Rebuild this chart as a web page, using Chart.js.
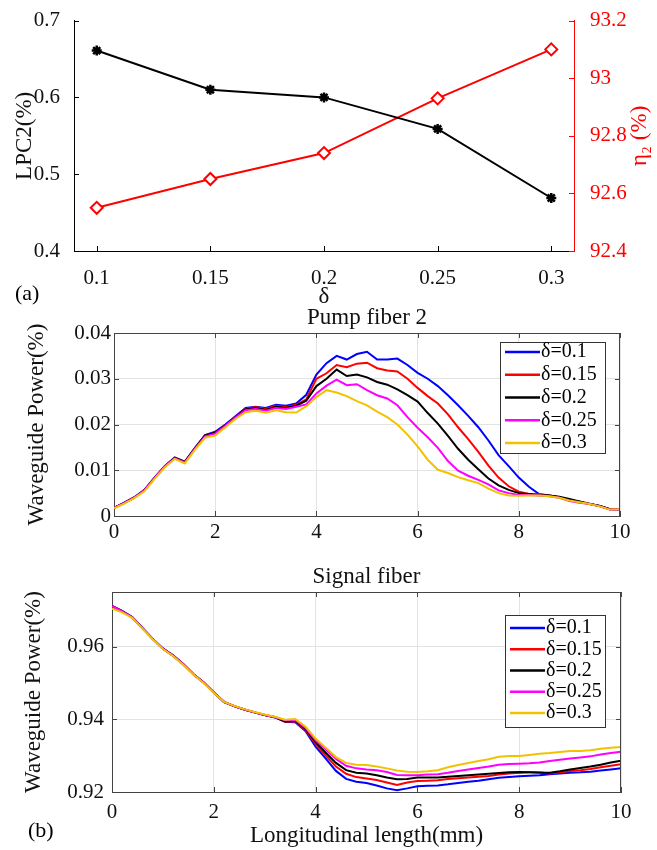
<!DOCTYPE html>
<html>
<head>
<meta charset="utf-8">
<script src="https://cdn.jsdelivr.net/npm/chart.js@4.4.0/dist/chart.umd.min.js"></script>
<style>
  body { margin: 0; background: #fff; }
  #wrap { position: relative; width: 657px; height: 850px; background: #fff; overflow: hidden; }
  canvas { position: absolute; left: 0; }
  .tag { position: absolute; font: 22px "Liberation Serif", serif; color: #000; line-height: 24px; }
</style>
</head>
<body>
<div id="wrap">
  <canvas id="c1" width="657" height="312" style="top:0px"></canvas>
  <canvas id="c2" width="657" height="240" style="top:300px"></canvas>
  <canvas id="c3" width="657" height="290" style="top:560px"></canvas>
  <div class="tag" style="left:15px; top:281px">(a)</div>
  <div class="tag" style="left:28px; top:818px">(b)</div>
</div>
<script>
// (a) 上图: δ 对 LPC2 和 η2
var deltaVals = [0.1, 0.15, 0.2, 0.25, 0.3];
var lpc2 = [0.661, 0.610, 0.600, 0.559, 0.469];
var eta2 = [92.55, 92.65, 92.74, 92.93, 93.10];
var deltaTicks = [0.1, 0.15, 0.2, 0.25, 0.3];
var lpcTicks = [0.4, 0.5, 0.6, 0.7];
var etaTicks = [92.4, 92.6, 92.8, 93, 93.2];

// (b) 纵向位置 (mm)
var xs = [0, 0.2, 0.4, 0.6, 0.8, 1, 1.2, 1.4, 1.6, 1.8, 2, 2.2, 2.4, 2.6, 2.8, 3, 3.2, 3.4, 3.6, 3.8,
  4, 4.2, 4.4, 4.6, 4.8, 5, 5.2, 5.4, 5.6, 5.8, 6, 6.2, 6.4, 6.6, 6.8, 7, 7.2, 7.4, 7.6, 7.8,
  8, 8.2, 8.4, 8.6, 8.8, 9, 9.2, 9.4, 9.6, 9.8, 10];
var posTicks = [0, 2, 4, 6, 8, 10];
var legendLabels = ['δ=0.1', 'δ=0.15', 'δ=0.2', 'δ=0.25', 'δ=0.3'];
var lineColors = ['#0000ff', '#ff0000', '#000000', '#ff00ff', '#f2c200'];

// Pump fiber 2
var pumpTicks = [0, 0.01, 0.02, 0.03, 0.04];
var pumpD01 = [0.0018, 0.0029, 0.0041, 0.0057, 0.0084, 0.0109, 0.0128, 0.0119, 0.0149, 0.0177, 0.0184, 0.0200, 0.0218, 0.0236, 0.0239, 0.0236, 0.0243, 0.0241, 0.0246,
  0.0265, 0.0309, 0.0334, 0.0350, 0.0342, 0.0354, 0.0359, 0.0342, 0.0342, 0.0344, 0.0330, 0.0313, 0.0300, 0.0284, 0.0264, 0.0242, 0.0219, 0.0194, 0.0165, 0.0133, 0.0109,
  0.0084, 0.0064, 0.0048, 0.0045, 0.0041, 0.0035, 0.0031, 0.0026, 0.0022, 0.0015, 0.0015];
var pumpD015 = [0.0018, 0.0028, 0.0040, 0.0056, 0.0083, 0.0108, 0.0127, 0.0118, 0.0148, 0.0176, 0.0182, 0.0198, 0.0216, 0.0234, 0.0238, 0.0234, 0.0241, 0.0238, 0.0243,
  0.0255, 0.0300, 0.0312, 0.0330, 0.0325, 0.0333, 0.0335, 0.0323, 0.0318, 0.0316, 0.0300, 0.0280, 0.0262, 0.0246, 0.0222, 0.0194, 0.0168, 0.0140, 0.0110, 0.0084, 0.0065,
  0.0053, 0.0048, 0.0047, 0.0045, 0.0041, 0.0035, 0.0031, 0.0026, 0.0022, 0.0015, 0.0015];
var pumpD02 = [0.0018, 0.0028, 0.0040, 0.0056, 0.0083, 0.0108, 0.0127, 0.0118, 0.0148, 0.0176, 0.0182, 0.0198, 0.0216, 0.0233, 0.0236, 0.0232, 0.0239, 0.0236, 0.0241,
  0.0252, 0.0284, 0.0300, 0.0320, 0.0306, 0.0309, 0.0303, 0.0293, 0.0287, 0.0277, 0.0264, 0.0250, 0.0225, 0.0202, 0.0175, 0.0147, 0.0123, 0.0102, 0.0082, 0.0067, 0.0057,
  0.0050, 0.0048, 0.0046, 0.0045, 0.0042, 0.0037, 0.0032, 0.0027, 0.0022, 0.0015, 0.0015];
var pumpD025 = [0.0018, 0.0028, 0.0040, 0.0056, 0.0083, 0.0108, 0.0126, 0.0117, 0.0147, 0.0174, 0.0180, 0.0197, 0.0215, 0.0231, 0.0234, 0.0230, 0.0236, 0.0234, 0.0239,
  0.0244, 0.0268, 0.0285, 0.0298, 0.0286, 0.0288, 0.0275, 0.0264, 0.0257, 0.0242, 0.0216, 0.0193, 0.0172, 0.0149, 0.0120, 0.0099, 0.0088, 0.0079, 0.0069, 0.0056, 0.0050,
  0.0046, 0.0046, 0.0045, 0.0043, 0.0040, 0.0033, 0.0029, 0.0026, 0.0021, 0.0014, 0.0015];
var pumpD03 = [0.0017, 0.0027, 0.0039, 0.0054, 0.0081, 0.0106, 0.0125, 0.0115, 0.0145, 0.0171, 0.0176, 0.0194, 0.0212, 0.0227, 0.0230, 0.0226, 0.0231, 0.0227, 0.0226,
  0.0240, 0.0260, 0.0275, 0.0270, 0.0262, 0.0251, 0.0242, 0.0228, 0.0216, 0.0200, 0.0178, 0.0152, 0.0123, 0.0101, 0.0094, 0.0085, 0.0078, 0.0072, 0.0060, 0.0050, 0.0045,
  0.0044, 0.0045, 0.0045, 0.0043, 0.0040, 0.0034, 0.0030, 0.0026, 0.0021, 0.0014, 0.0015];

// Signal fiber
var sigTicks = [0.92, 0.94, 0.96];
var sigD01 = [0.9712, 0.9698, 0.9681, 0.9651, 0.9621, 0.9595, 0.9576, 0.9552, 0.9524, 0.9501, 0.9474, 0.9447, 0.9436, 0.9427, 0.9419, 0.9412, 0.9405, 0.9393, 0.9392,
  0.9368, 0.9325, 0.9292, 0.9258, 0.9236, 0.9228, 0.9225, 0.9218, 0.9210, 0.9205, 0.9210, 0.9216, 0.9217, 0.9218, 0.9221, 0.9225, 0.9228, 0.9231, 0.9235, 0.9239, 0.9241,
  0.9243, 0.9245, 0.9246, 0.9249, 0.9251, 0.9253, 0.9254, 0.9256, 0.9259, 0.9262, 0.9265];
var sigD015 = [0.9711, 0.9697, 0.9680, 0.9650, 0.9621, 0.9594, 0.9575, 0.9551, 0.9524, 0.9501, 0.9474, 0.9448, 0.9436, 0.9427, 0.9419, 0.9412, 0.9406, 0.9394, 0.9394,
  0.9371, 0.9332, 0.9300, 0.9270, 0.9250, 0.9241, 0.9237, 0.9233, 0.9226, 0.9219, 0.9226, 0.9230, 0.9231, 0.9232, 0.9236, 0.9238, 0.9240, 0.9242, 0.9244, 0.9248, 0.9251,
  0.9253, 0.9254, 0.9254, 0.9251, 0.9254, 0.9258, 0.9260, 0.9263, 0.9268, 0.9272, 0.9276];
var sigD02 = [0.9711, 0.9697, 0.9680, 0.9650, 0.9621, 0.9594, 0.9575, 0.9551, 0.9524, 0.9501, 0.9474, 0.9448, 0.9436, 0.9427, 0.9419, 0.9412, 0.9406, 0.9394, 0.9396,
  0.9374, 0.9337, 0.9308, 0.9280, 0.9260, 0.9253, 0.9251, 0.9246, 0.9240, 0.9235, 0.9236, 0.9240, 0.9240, 0.9240, 0.9242, 0.9244, 0.9246, 0.9248, 0.9250, 0.9252, 0.9254,
  0.9255, 0.9254, 0.9253, 0.9253, 0.9257, 0.9262, 0.9266, 0.9270, 0.9275, 0.9281, 0.9286];
var sigD025 = [0.9711, 0.9697, 0.9680, 0.9650, 0.9621, 0.9594, 0.9575, 0.9551, 0.9524, 0.9501, 0.9474, 0.9448, 0.9436, 0.9427, 0.9419, 0.9412, 0.9406, 0.9397, 0.9398,
  0.9377, 0.9342, 0.9317, 0.9291, 0.9272, 0.9265, 0.9262, 0.9260, 0.9255, 0.9247, 0.9246, 0.9246, 0.9248, 0.9249, 0.9253, 0.9258, 0.9262, 0.9266, 0.9270, 0.9275, 0.9277,
  0.9278, 0.9279, 0.9281, 0.9285, 0.9289, 0.9292, 0.9295, 0.9298, 0.9303, 0.9307, 0.9311];
var sigD03 = [0.9704, 0.9694, 0.9679, 0.9649, 0.9620, 0.9593, 0.9574, 0.9550, 0.9523, 0.9500, 0.9473, 0.9448, 0.9437, 0.9428, 0.9420, 0.9413, 0.9407, 0.9399, 0.9401,
  0.9380, 0.9347, 0.9322, 0.9296, 0.9280, 0.9275, 0.9274, 0.9270, 0.9265, 0.9259, 0.9256, 0.9255, 0.9257, 0.9260, 0.9268, 0.9274, 0.9280, 0.9285, 0.9290, 0.9297, 0.9299,
  0.9299, 0.9302, 0.9305, 0.9307, 0.9310, 0.9313, 0.9313, 0.9315, 0.9319, 0.9322, 0.9324];

Chart.defaults.font.family = '"Liberation Serif", "Times New Roman", serif';
Chart.defaults.color = '#111';

function fmt(v) { return String(+(+v).toFixed(4)); }
function setTicks(arr) { return function (s) { s.ticks = arr.map(function (v) { return { value: v }; }); }; }

// matlab 처럼 안쪽으로 향하는 눈금 + 박스
var innerTicks = {
  id: 'innerTicks',
  afterDraw: function (chart, args, opts) {
    var ctx = chart.ctx, a = chart.chartArea, len = 5;
    ctx.save();
    ctx.lineWidth = 1;
    Object.keys(chart.scales).forEach(function (id) {
      var s = chart.scales[id];
      ctx.strokeStyle = s.options.border.color;
      s.ticks.forEach(function (t) {
        var p = Math.round(s.getPixelForValue(t.value)) + 0.5;
        ctx.beginPath();
        if (s.isHorizontal()) {
          ctx.moveTo(p, a.bottom); ctx.lineTo(p, a.bottom - len);
          if (opts.box) { ctx.moveTo(p, a.top); ctx.lineTo(p, a.top + len); }
        } else if (s.position === 'left') {
          ctx.moveTo(a.left, p); ctx.lineTo(a.left + len, p);
          if (opts.box) { ctx.moveTo(a.right, p); ctx.lineTo(a.right - len, p); }
        } else {
          ctx.moveTo(a.right, p); ctx.lineTo(a.right - len, p);
        }
        ctx.stroke();
      });
    });
    if (opts.box) {
      ctx.strokeStyle = opts.color;
      ctx.beginPath();
      ctx.moveTo(a.left, Math.round(a.top) + 0.5); ctx.lineTo(a.right, Math.round(a.top) + 0.5);
      ctx.moveTo(Math.round(a.right) - 0.5, a.top); ctx.lineTo(Math.round(a.right) - 0.5, a.bottom);
      ctx.stroke();
    }
    ctx.restore();
  }
};

// 그림 안의 범례 상자
var boxLegend = {
  id: 'boxLegend',
  afterDraw: function (chart, args, o) {
    if (!o.width) return;
    var ctx = chart.ctx, a = chart.chartArea;
    var x0 = Math.round(a.right - o.right - o.width), y0 = Math.round(a.top + o.top);
    ctx.save();
    ctx.fillStyle = '#fff';
    ctx.fillRect(x0, y0, o.width, o.height);
    ctx.strokeStyle = '#333';
    ctx.lineWidth = 1;
    ctx.strokeRect(x0 + 0.5, y0 + 0.5, o.width, o.height);
    ctx.font = '20px "Liberation Serif", serif';
    ctx.textBaseline = 'middle';
    chart.data.datasets.forEach(function (ds, i) {
      var y = y0 + o.first + i * o.row;
      ctx.strokeStyle = ds.borderColor;
      ctx.lineWidth = 2.5;
      ctx.beginPath(); ctx.moveTo(x0 + 5, y); ctx.lineTo(x0 + 40, y); ctx.stroke();
      ctx.fillStyle = '#000';
      ctx.fillText(ds.label, x0 + 41, y);
    });
    ctx.restore();
  }
};

// 오른쪽 축 제목 (아래에서 위로)
var sideTitle = {
  id: 'sideTitle',
  afterDraw: function (chart, args, o) {
    if (!o.text) return;
    var ctx = chart.ctx, a = chart.chartArea;
    ctx.save();
    ctx.translate(o.x, (a.top + a.bottom) / 2);
    ctx.rotate(-Math.PI / 2);
    ctx.fillStyle = o.color;
    ctx.font = '23px "Liberation Serif", serif';
    ctx.textAlign = 'center';
    ctx.textBaseline = 'middle';
    ctx.fillText(o.text, 0, 0);
    ctx.restore();
  }
};

// 첫번째 그림
new Chart(document.getElementById('c1'), {
  type: 'line',
  data: {
    datasets: [{
      label: 'LPC2',
      data: deltaVals.map(function (d, i) { return { x: d, y: lpc2[i] }; }),
      yAxisID: 'y',
      borderColor: '#000', backgroundColor: '#000', borderWidth: 2,
      pointStyle: 'star', pointRadius: 5, pointBorderWidth: 2.5, tension: 0
    }, {
      label: 'eta2',
      data: deltaVals.map(function (d, i) { return { x: d, y: eta2[i] }; }),
      yAxisID: 'y2',
      borderColor: '#ff0000', backgroundColor: '#fff', borderWidth: 2,
      pointStyle: 'rectRot', pointRadius: 6, pointBorderWidth: 2, tension: 0
    }]
  },
  options: {
    responsive: false, animation: false,
    layout: { padding: { top: 17, left: 0, right: 0, bottom: 0 } },
    plugins: {
      legend: { display: false }, tooltip: { enabled: false },
      innerTicks: { box: false },
      sideTitle: { text: 'η₂ (%)', x: 640, color: '#ff0000' }
    },
    scales: {
      x: {
        type: 'linear', min: 0.09, max: 0.31,
        afterBuildTicks: setTicks(deltaTicks),
        afterFit: function (s) { s.height = 61; },
        grid: { display: false }, border: { color: '#000' },
        ticks: { padding: 7, color: '#111', font: { size: 21 }, callback: fmt, maxRotation: 0 },
        title: { display: true, text: 'δ', color: '#111', font: { size: 23 }, padding: { top: 0, bottom: 1 } }
      },
      y: {
        position: 'left', min: 0.4, max: 0.7,
        afterBuildTicks: setTicks(lpcTicks),
        afterFit: function (s) { s.width = 74; },
        grid: { display: false }, border: { color: '#000' },
        ticks: { padding: 6, color: '#111', font: { size: 21 }, callback: fmt },
        title: { display: true, text: 'LPC2(%)', color: '#111', font: { size: 23 }, padding: { top: 11, bottom: 0 } }
      },
      y2: {
        position: 'right', min: 92.4, max: 93.2,
        afterBuildTicks: setTicks(etaTicks),
        afterFit: function (s) { s.width = 83; },
        grid: { display: false }, border: { color: '#ff0000' },
        ticks: { padding: 8, color: '#ff0000', font: { size: 21 }, callback: fmt }
      }
    }
  },
  plugins: [innerTicks, sideTitle]
});

function fiberSets(series) {
  return series.map(function (vals, i) {
    return {
      label: legendLabels[i],
      data: xs.map(function (x, k) { return { x: x, y: vals[k] }; }),
      borderColor: lineColors[i], borderWidth: 2,
      pointRadius: 0, tension: 0, order: series.length - i
    };
  });
}

function fiberOptions(o) {
  return {
    responsive: false, animation: false,
    layout: { padding: { top: 0, left: 0, right: o.right, bottom: 0 } },
    plugins: {
      legend: { display: false }, tooltip: { enabled: false },
      title: { display: true, text: o.title, fullSize: false, color: '#111', font: { size: 23, weight: 'normal', lineHeight: 1.2 }, padding: o.titlePad },
      innerTicks: { box: true, color: '#444' },
      boxLegend: o.legend
    },
    scales: {
      x: {
        type: 'linear', min: 0, max: 10,
        afterBuildTicks: setTicks(posTicks),
        afterFit: function (s) { s.height = o.xHeight; },
        grid: { color: '#e3e3e3', drawTicks: false }, border: { color: '#444' },
        ticks: { padding: o.xPad, color: '#111', font: { size: 21 }, callback: fmt, maxRotation: 0 },
        title: { display: !!o.xTitle, text: o.xTitle || '', color: '#111', font: { size: 23 }, padding: { top: 0, bottom: 0 } }
      },
      y: {
        min: o.yMin, max: o.yMax,
        afterBuildTicks: setTicks(o.yTicks),
        afterFit: function (s) { s.width = o.left; },
        grid: { color: '#e3e3e3', drawTicks: false }, border: { color: '#444' },
        ticks: { padding: o.yPad, color: '#111', font: { size: 21 }, callback: fmt },
        title: { display: true, text: 'Waveguide Power(%)', color: '#111', font: { size: 23 }, padding: { top: o.yTitlePad, bottom: 0 } }
      }
    }
  };
}

// 두번째 그림
new Chart(document.getElementById('c2'), {
  type: 'line',
  data: { datasets: fiberSets([pumpD01, pumpD015, pumpD02, pumpD025, pumpD03]) },
  options: fiberOptions({
    title: 'Pump fiber 2', titlePad: { top: 4, bottom: 1.4 },
    right: 37, left: 114, xHeight: 24, xPad: 4, yPad: 3, yTitlePad: 23,
    yMin: 0, yMax: 0.04, yTicks: pumpTicks,
    legend: { right: 15, top: 9, width: 105, height: 111, first: 10, row: 22.75 }
  }),
  plugins: [innerTicks, boxLegend]
});

// 세번째 그림
new Chart(document.getElementById('c3'), {
  type: 'line',
  data: { datasets: fiberSets([sigD01, sigD015, sigD02, sigD025, sigD03]) },
  options: fiberOptions({
    title: 'Signal fiber', titlePad: { top: 3.2, bottom: 1.2 },
    right: 36, left: 112, xHeight: 58, xPad: 8, yPad: 8, yTitlePad: 20,
    xTitle: 'Longitudinal length(mm)',
    yMin: 0.92, yMax: 0.975, yTicks: sigTicks,
    legend: { right: 16, top: 23, width: 100, height: 112, first: 13, row: 21.25 }
  }),
  plugins: [innerTicks, boxLegend]
});
</script>
</body>
</html>
